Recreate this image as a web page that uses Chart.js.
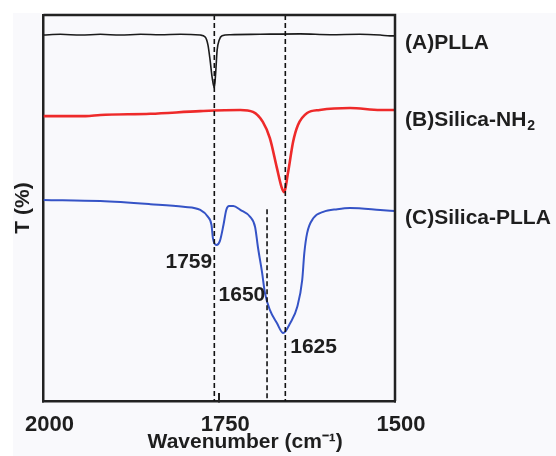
<!DOCTYPE html>
<html lang="en">
<head>
    <meta charset="UTF-8">
    <title>FTIR spectra</title>
    <script src="https://cdn.jsdelivr.net/npm/chart.js"></script>
    <style>
        body { margin: 0; background: #fff; }
        #wrap { width: 556px; height: 456px; }
    </style>
</head>
<body>
    <div id="wrap"><canvas id="ftirChart" width="556" height="456"></canvas></div>

    <script>
        // x values are wavenumbers (cm-1), y values are transmittance (arbitrary, offset per curve)
        const xTicks = [2000, 1750, 1500];

        const plla_wn = [2000, 1976, 1947, 1919, 1891, 1862, 1834, 1805, 1777, 1770, 1766, 1763, 1760, 1757, 1755, 1753, 1750, 1746, 1734, 1692, 1635, 1592, 1550, 1521, 1507, 1500];
        const plla_T  = [94.8, 95.0, 94.8, 95.0, 94.8, 95.0, 94.9, 95.0, 94.8, 94.3, 92.2, 88.3, 83.7, 81.1, 85.2, 90.9, 93.5, 94.6, 94.9, 95.0, 95.1, 94.9, 95.0, 94.8, 94.6, 94.6];

        const nh2_wn = [2000, 1940, 1919, 1848, 1777, 1720, 1702, 1688, 1678, 1668, 1661, 1658, 1652, 1645, 1638, 1625, 1607, 1564, 1521, 1500];
        const nh2_T  = [73.8, 73.8, 74.1, 74.4, 75.1, 75.4, 74.9, 72.3, 68.1, 60.4, 55.2, 54.1, 59.3, 67.1, 71.5, 74.6, 75.4, 75.9, 75.4, 75.4];

        const sp_wn = [2000, 1919, 1848, 1801, 1777, 1766, 1761, 1759, 1754, 1749, 1744, 1740, 1736, 1730, 1720, 1706, 1699, 1695, 1689, 1685, 1678, 1668, 1659, 1649, 1639, 1632, 1629, 1625, 1616, 1602, 1582, 1564, 1521, 1500];
        const sp_T  = [52.1, 51.8, 51.0, 50.3, 49.5, 47.7, 45.6, 42.2, 40.4, 41.5, 45.6, 49.5, 50.5, 50.5, 49.5, 47.7, 45.1, 39.9, 33.2, 28.0, 23.6, 20.2, 17.6, 20.2, 24.4, 31.3, 38.3, 43.5, 47.4, 49.0, 49.7, 50.0, 49.5, 49.2];

        // dashed marker lines (position on axis) and their printed labels
        const markerWn = [1757, 1656, 1682];
        const markerTop = [100, 100, 49.7];
        const peakLabels = ['1759', '1650', '1625'];

        const seriesNames = ['(A)PLLA', '(B)Silica-NH', '(C)Silica-PLLA'];
        const seriesColors = ['#1b1b1b', '#ee2a2a', '#3553c6'];

        const toPts = (xs, ys) => xs.map((x, i) => ({ x: x, y: ys[i] }));
        const FONT = '"Liberation Sans", Arial, sans-serif';
        const INK = '#1e1e1e';

        const datasets = [
            { data: toPts(plla_wn, plla_T), borderColor: seriesColors[0], borderWidth: 1.6 },
            { data: toPts(nh2_wn, nh2_T), borderColor: seriesColors[1], borderWidth: 2.6 },
            { data: toPts(sp_wn, sp_T), borderColor: seriesColors[2], borderWidth: 2 }
        ].map(d => Object.assign(d, { pointRadius: 0, fill: false, cubicInterpolationMode: 'monotone', order: 2 }));

        markerWn.forEach((w, i) => {
            datasets.push({
                data: [{ x: w, y: markerTop[i] }, { x: w, y: 0 }],
                borderColor: '#111', borderWidth: 1.6, borderDash: [5, 3],
                pointRadius: 0, fill: false, order: 1
            });
        });

        const extras = {
            id: 'extras',
            beforeDraw(chart) {
                const c = chart.ctx;
                c.save();
                c.fillStyle = '#fff';
                c.fillRect(0, 0, chart.width, chart.height);
                c.fillStyle = '#f9f9fc';
                c.fillRect(13, 13, chart.width - 13, chart.height - 13);
                c.restore();
            },
            afterDraw(chart) {
                const c = chart.ctx;
                const a = chart.chartArea;
                const x = chart.scales.x, y = chart.scales.y;
                c.save();
                // top and right frame
                c.strokeStyle = '#222';
                c.lineWidth = 2.5;
                c.beginPath();
                c.moveTo(a.left, a.top);
                c.lineTo(a.right, a.top);
                c.lineTo(a.right, a.bottom);
                c.stroke();

                c.fillStyle = INK;
                c.font = 'bold 21px ' + FONT;
                c.textBaseline = 'middle';

                // peak labels
                c.textAlign = 'right';
                c.fillText(peakLabels[0], x.getPixelForValue(1760), y.getPixelForValue(36));
                c.textAlign = 'left';
                c.fillText(peakLabels[1], x.getPixelForValue(1751), y.getPixelForValue(27.5));
                c.fillText(peakLabels[2], x.getPixelForValue(1649), y.getPixelForValue(14));

                // series names at the right
                const lx = a.right + 10;
                c.fillText(seriesNames[0], lx, y.getPixelForValue(92.7));
                const yb = y.getPixelForValue(72.8);
                c.fillText(seriesNames[1], lx, yb);
                const wB = c.measureText(seriesNames[1]).width;
                c.font = 'bold 14px ' + FONT;
                c.fillText('2', lx + wB + 1, yb + 6);
                c.font = 'bold 21px ' + FONT;
                c.fillText(seriesNames[2], lx, y.getPixelForValue(47.4));

                // x axis title
                c.textAlign = 'center';
                c.fillText('Wavenumber (cm\u207B\u00B9)', (a.left + a.right) / 2 + 26, 442);
                c.restore();
            }
        };

        new Chart(document.getElementById('ftirChart'), {
            type: 'line',
            data: { datasets: datasets },
            options: {
                responsive: false,
                devicePixelRatio: 1,
                animation: false,
                layout: { padding: { top: 15, right: 161, left: 0, bottom: 0 } },
                plugins: { legend: { display: false }, tooltip: { enabled: false } },
                scales: {
                    x: {
                        type: 'linear',
                        reverse: true,
                        min: 1500,
                        max: 2000,
                        afterBuildTicks: s => { s.ticks = xTicks.map(v => ({ value: v })); },
                        afterFit: s => { s.height = 55; },
                        grid: { display: true, drawOnChartArea: false, drawTicks: true, tickLength: -8, color: '#222', lineWidth: 2 },
                        border: { display: true, color: '#222', width: 2.5 },
                        ticks: {
                            color: INK, font: { family: FONT, size: 22, weight: 'bold' },
                            padding: 19, labelOffset: 6, maxRotation: 0,
                            callback: v => String(v)
                        }
                    },
                    y: {
                        type: 'linear',
                        min: 0,
                        max: 100,
                        afterFit: s => { s.width = 43; },
                        grid: { display: false },
                        border: { display: true, color: '#222', width: 2.5 },
                        ticks: { display: false },
                        title: { display: true, text: 'T (%)', color: INK, font: { family: FONT, size: 21, weight: 'bold' }, padding: { top: 10, bottom: 0 } }
                    }
                }
            },
            plugins: [extras]
        });
    </script>
</body>
</html>
